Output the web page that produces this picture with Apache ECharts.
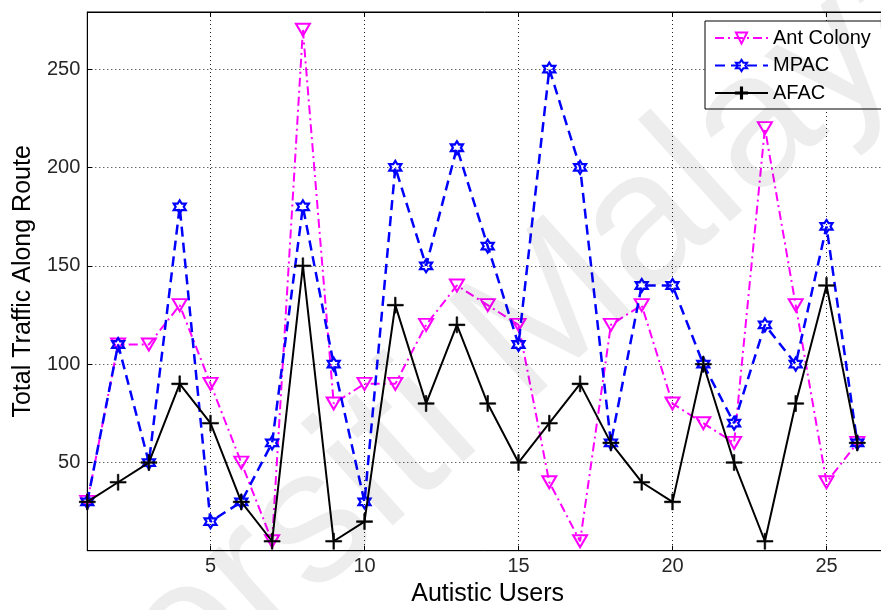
<!DOCTYPE html>
<html><head><meta charset="utf-8">
<script src="https://cdn.jsdelivr.net/npm/echarts@6/dist/echarts.min.js"></script>
<style>html,body{margin:0;padding:0;background:#fff}#c{width:881px;height:610px}</style>
</head><body><div id="c"></div><script>
const users = [1,2,3,4,5,6,7,8,9,10,11,12,13,14,15,16,17,18,19,20,21,22,23,24,25,26];
const antColony = [30,110,110,130,90,50,10,270,80,90,90,120,140,130,120,40,10,120,130,80,70,60,220,130,40,60];
const mpac      = [30,110,50,180,20,30,60,180,100,30,200,150,210,160,110,250,200,60,140,140,100,70,120,100,170,60];
const afac      = [30,40,50,90,70,30,10,150,10,20,130,80,120,80,50,70,90,60,40,30,100,50,10,80,140,60];
const xTicks = [5,10,15,20,25];
const yTicks = [50,100,150,200,250];
const seriesNames = ['Ant Colony','MPAC','AFAC'];
const xTitle = 'Autistic Users';
const yTitle = 'Total Traffic Along Route';
const watermark = 'Universiti Malaya';

const FONT = '"Liberation Sans", Arial, sans-serif';
const pairs = arr => users.map((u, i) => [u, arr[i]]);
const hexagram = 'path://M0 -100 L29 -50 L87 -50 L58 0 L87 50 L29 50 L0 100 L-29 50 L-87 50 L-58 0 L-87 -50 L-29 -50 Z';
const plus = 'path://M-1 -10 L1 -10 L1 -1 L10 -1 L10 1 L1 1 L1 10 L-1 10 L-1 1 L-10 1 L-10 -1 L-1 -1 Z';

const chart = echarts.init(document.getElementById('c'), null, {renderer: 'canvas'});
chart.setOption({
  backgroundColor: '#fff',
  animation: false,
  textStyle: {fontFamily: FONT},
  grid: {left: 87.3, top: 12, width: 800.8, height: 538.7, containLabel: false, outerBoundsMode: 'none',
         show: true, borderColor: '#000', borderWidth: 1, backgroundColor: 'transparent'},
  xAxis: [{
    type: 'value', min: 1, max: 27, position: 'bottom',
    name: xTitle, nameLocation: 'middle', nameGap: 30,
    nameTextStyle: {fontSize: 25, color: '#000', fontFamily: FONT},
    axisLine: {show: true, lineStyle: {color: '#000', width: 1}},
    axisTick: {show: true, inside: true, length: 5, customValues: xTicks, lineStyle: {color: '#000'}},
    axisLabel: {show: true, customValues: xTicks, margin: 6, fontSize: 20, color: '#262626', fontFamily: FONT},
    splitLine: {show: true, lineStyle: {color: '#222', width: 1, type: [1, 3]}}
  }, {
    type: 'value', min: 1, max: 27, position: 'top',
    axisLine: {show: true, lineStyle: {color: '#000', width: 1}},
    axisTick: {show: true, inside: true, length: 5, customValues: xTicks, lineStyle: {color: '#000'}},
    axisLabel: {show: false},
    splitLine: {show: false}
  }],
  yAxis: [{
    type: 'value', min: 5.2, max: 279, position: 'left',
    name: yTitle, nameLocation: 'middle', nameGap: 47,
    nameTextStyle: {fontSize: 25, color: '#000', fontFamily: FONT},
    axisLine: {show: true, lineStyle: {color: '#000', width: 1}},
    axisTick: {show: true, inside: true, length: 5, customValues: yTicks, lineStyle: {color: '#000'}},
    axisLabel: {show: true, customValues: yTicks, margin: 7, fontSize: 20, color: '#262626', fontFamily: FONT},
    splitLine: {show: true, lineStyle: {color: '#222', width: 1, type: [1, 3]}}
  }],
  legend: {
    orient: 'vertical', left: 705, top: 21,
    padding: [7, 30, 6, 9],
    itemWidth: 53, itemHeight: 14, itemGap: 7.5,
    borderColor: '#000', borderWidth: 1, borderRadius: 0, backgroundColor: '#fff',
    textStyle: {fontSize: 20, color: '#000', fontFamily: FONT, lineHeight: 20},
    data: seriesNames
  },
  series: [{
    name: seriesNames[0], type: 'line', data: pairs(antColony),
    symbol: 'triangle', symbolRotate: 180, symbolSize: [14, 12],
    lineStyle: {color: '#ff00ff', width: 2, type: [9, 4, 2, 4]},
    itemStyle: {color: 'rgba(255,255,255,0)', borderColor: '#ff00ff', borderWidth: 2},
    z: 3
  }, {
    name: seriesNames[1], type: 'line', data: pairs(mpac),
    symbol: hexagram, symbolSize: [12, 13],
    lineStyle: {color: '#0000ff', width: 2.5, type: [10, 6]},
    itemStyle: {color: 'rgba(255,255,255,0)', borderColor: '#0000ff', borderWidth: 2.2},
    z: 4
  }, {
    name: seriesNames[2], type: 'line', data: pairs(afac),
    symbol: plus, symbolSize: 16,
    lineStyle: {color: '#000', width: 2, type: 'solid'},
    itemStyle: {color: '#000', borderColor: '#000', borderWidth: 0.6},
    z: 5
  }],
  graphic: [{
    type: 'text', x: 407, y: 442, rotation: 42 * Math.PI / 180, silent: true, z: 100,
    style: {text: watermark, fontSize: 190, fontFamily: FONT, fill: 'rgba(0,0,0,0.07)', align: 'center', verticalAlign: 'middle'}
  }]
});
</script></body></html>
